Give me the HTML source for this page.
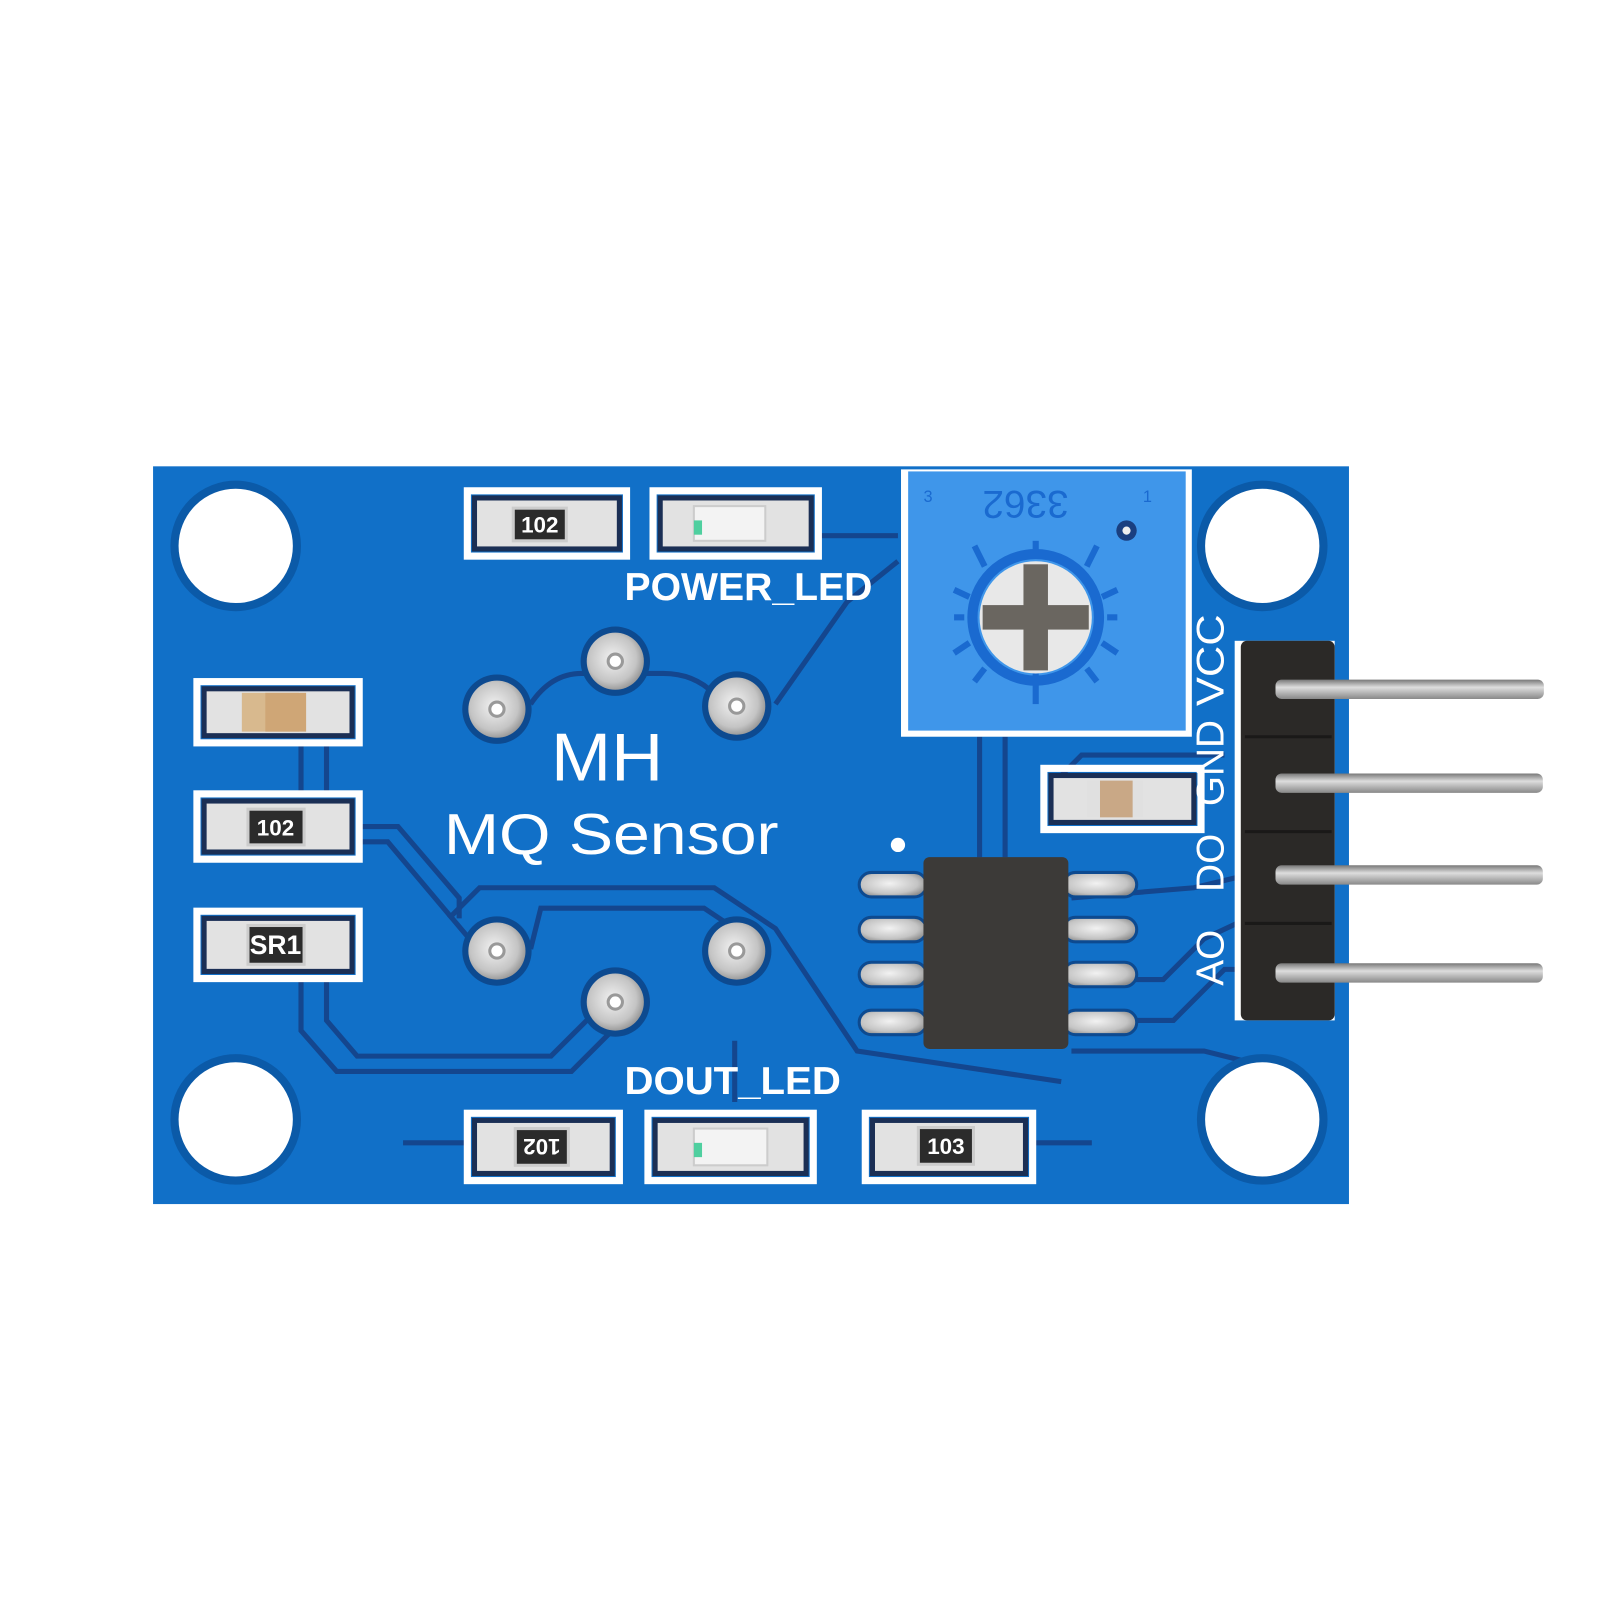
<!DOCTYPE html>
<html><head><style>html,body{margin:0;padding:0;background:#fff}svg{display:block}</style></head>
<body>
<svg width="1600" height="1600" viewBox="0 0 1600 1600" xmlns="http://www.w3.org/2000/svg" font-family="Liberation Sans, sans-serif">
<defs>
<radialGradient id="pad" cx="0.45" cy="0.45" r="0.6"><stop offset="0" stop-color="#f2f2f2"/><stop offset="0.7" stop-color="#c4c4c4"/><stop offset="1" stop-color="#8e8e8e"/></radialGradient>
<linearGradient id="pin" x1="0" y1="0" x2="0" y2="1"><stop offset="0" stop-color="#777"/><stop offset="0.4" stop-color="#ddd"/><stop offset="1" stop-color="#888"/></linearGradient>
</defs>
<rect width="1600" height="1600" fill="#fff"/>
<g transform="scale(1.0204)">
<rect x="150" y="457" width="1172" height="723" fill="#1170c8"/>
<g fill="none" stroke="#14468e" stroke-width="5">
<path d="M520 690 Q540 660 570 660 L650 660 Q680 660 700 680"/>
<path d="M760 690 L830 590 L880 550"/>
<path d="M805 525 L880 525"/>
<path d="M355 810 L390 810 L450 880 L450 900"/>
<path d="M355 825 L380 825 L460 920"/>
<path d="M295 730 L295 775 M320 730 L320 775"/>
<path d="M295 962 L295 1010 L330 1050 L560 1050 L600 1010"/>
<path d="M320 962 L320 1000 L350 1035 L540 1035 L580 995"/>
<path d="M520 930 L530 890 L690 890 L720 910"/>
<path d="M440 900 L470 870 L700 870 L760 910 L840 1030 L1040 1060"/>
<path d="M960 722 L960 840 M985 722 L985 840"/>
<path d="M1050 1000 L1150 1000 L1200 950 L1212 950"/>
<path d="M1050 960 L1140 960 L1180 920 L1212 905"/>
<path d="M1050 880 L1170 870 L1212 860"/>
<path d="M1050 1030 L1180 1030 L1260 1050"/>
<path d="M395 1120 L455 1120 M1015 1120 L1070 1120"/>
<path d="M720 1020 L720 1080"/>
<path d="M1040 760 L1060 740 L1200 740"/>
</g>
<g fill="#fff" stroke="#0b5aa8" stroke-width="8">
<circle cx="231" cy="535" r="60"/><circle cx="1237" cy="535" r="60"/>
<circle cx="231" cy="1097" r="60"/><circle cx="1237" cy="1097" r="60"/>
</g>
<g>
<circle cx="487" cy="695" r="34" fill="#0d4a90"/><circle cx="487" cy="695" r="28" fill="url(#pad)"/>
<circle cx="603" cy="648" r="34" fill="#0d4a90"/><circle cx="603" cy="648" r="28" fill="url(#pad)"/>
<circle cx="722" cy="692" r="34" fill="#0d4a90"/><circle cx="722" cy="692" r="28" fill="url(#pad)"/>
<circle cx="487" cy="932" r="34" fill="#0d4a90"/><circle cx="487" cy="932" r="28" fill="url(#pad)"/>
<circle cx="603" cy="982" r="34" fill="#0d4a90"/><circle cx="603" cy="982" r="28" fill="url(#pad)"/>
<circle cx="722" cy="932" r="34" fill="#0d4a90"/><circle cx="722" cy="932" r="28" fill="url(#pad)"/>
</g>
<g fill="#fff" stroke="#999" stroke-width="3">
<circle cx="487" cy="695" r="7"/><circle cx="603" cy="648" r="7"/><circle cx="722" cy="692" r="7"/>
<circle cx="487" cy="932" r="7"/><circle cx="603" cy="982" r="7"/><circle cx="722" cy="932" r="7"/>
</g>
<g>
<g fill="none" stroke="#fff" stroke-width="7">
<rect x="458" y="481" width="156" height="64"/>
<rect x="640" y="481" width="162" height="64"/>
<rect x="193" y="668" width="159" height="60"/>
<rect x="193" y="778" width="159" height="64"/>
<rect x="193" y="893" width="159" height="66"/>
<rect x="1023" y="753" width="154" height="60"/>
<rect x="458" y="1091" width="149" height="66"/>
<rect x="635" y="1091" width="162" height="66"/>
<rect x="848" y="1091" width="164" height="66"/>
</g>
<g fill="#e2e2e2" stroke="#1b2f55" stroke-width="5">
<rect x="465" y="488" width="142" height="50"/>
<rect x="647" y="488" width="148" height="50"/>
<rect x="200" y="675" width="145" height="46"/>
<rect x="200" y="785" width="145" height="50"/>
<rect x="200" y="900" width="145" height="52"/>
<rect x="1030" y="760" width="140" height="46"/>
<rect x="465" y="1098" width="135" height="52"/>
<rect x="642" y="1098" width="148" height="52"/>
<rect x="855" y="1098" width="150" height="52"/>
</g>
<g fill="#2b2b2b" stroke="#ccc" stroke-width="3">
<rect x="503" y="498" width="52" height="32"/>
<rect x="243" y="793" width="55" height="35"/>
<rect x="243" y="907" width="55" height="38"/>
<rect x="505" y="1106" width="52" height="36"/>
<rect x="900" y="1105" width="54" height="36"/>
</g>
<g fill="#fff" font-size="22" font-weight="bold" text-anchor="middle">
<text x="529" y="522">102</text>
<text x="270" y="819">102</text>
<text x="270" y="935" font-size="26">SR1</text>
<text x="531" y="1132" transform="rotate(180 531 1124)">102</text>
<text x="927" y="1131">103</text>
</g>
<rect x="237" y="679" width="56" height="38" fill="#d8b98e"/>
<rect x="260" y="679" width="40" height="38" fill="#cfa676"/>
<rect x="1065" y="765" width="55" height="36" fill="#e0e0e0"/>
<rect x="1078" y="765" width="32" height="36" fill="#c9a886"/>
<rect x="680" y="496" width="70" height="34" fill="#f3f3f3" stroke="#ccc" stroke-width="2"/>
<rect x="680" y="510" width="8" height="14" fill="#4fcf9f"/>
<rect x="680" y="1106" width="72" height="36" fill="#f3f3f3" stroke="#ccc" stroke-width="2"/>
<rect x="680" y="1120" width="8" height="14" fill="#4fcf9f"/>
</g>
<g fill="#fff" font-weight="bold">
<text x="612" y="588" font-size="38" textLength="243" lengthAdjust="spacingAndGlyphs">POWER_LED</text>
<text x="612" y="1072" font-size="38" textLength="212" lengthAdjust="spacingAndGlyphs">DOUT_LED</text>
<text x="540" y="765" font-size="66" font-weight="normal" textLength="110" lengthAdjust="spacingAndGlyphs">MH</text>
<text x="435" y="837" font-size="56" font-weight="normal" textLength="328" lengthAdjust="spacingAndGlyphs">MQ Sensor</text>
<g font-size="38" font-weight="normal">
<text transform="translate(1199 692) rotate(-90)" textLength="90" lengthAdjust="spacingAndGlyphs">VCC</text>
<text transform="translate(1199 790) rotate(-90)">GND</text>
<text transform="translate(1199 874) rotate(-90)">DO</text>
<text transform="translate(1199 966) rotate(-90)">AO</text>
</g>
</g>
<circle cx="880" cy="828" r="7" fill="#fff"/>
<rect x="883" y="460" width="285" height="262" fill="#fff"/>
<rect x="890" y="462" width="272" height="254" fill="#3f96ea"/>
<text x="1005" y="495" fill="#1a6ad0" font-size="38" transform="rotate(180 1005 495)" text-anchor="middle" dy="14">3362</text>
<text x="1120" y="492" fill="#1a6ad0" font-size="16">1</text>
<text x="905" y="492" fill="#1a6ad0" font-size="16">3</text>
<circle cx="1104" cy="520" r="10" fill="#1a3f80"/><circle cx="1104" cy="520" r="4" fill="#eee"/>
<g stroke="#1a6ad0" stroke-width="6">
<line x1="1015" y1="540" x2="1015" y2="530"/>
<line x1="1015" y1="690" x2="1015" y2="660"/>
<line x1="945" y1="605" x2="935" y2="605"/>
<line x1="1085" y1="605" x2="1095" y2="605"/>
<line x1="965" y1="555" x2="955" y2="535"/>
<line x1="1065" y1="555" x2="1075" y2="535"/>
<line x1="950" y1="585" x2="935" y2="578"/>
<line x1="1080" y1="585" x2="1095" y2="578"/>
<line x1="950" y1="630" x2="935" y2="640"/>
<line x1="1080" y1="630" x2="1095" y2="640"/>
<line x1="965" y1="655" x2="955" y2="668"/>
<line x1="1065" y1="655" x2="1075" y2="668"/>
</g>
<circle cx="1015" cy="605" r="62" fill="none" stroke="#1a6ad0" stroke-width="10"/>
<circle cx="1015" cy="605" r="55" fill="#e8e8e8"/>
<rect x="1003" y="553" width="24" height="104" fill="#6a6660"/>
<rect x="963" y="593" width="104" height="24" fill="#6a6660"/>
<g fill="url(#pad)" stroke="#0d4a90" stroke-width="3">
<rect x="842" y="855" width="66" height="24" rx="12"/><rect x="842" y="899" width="66" height="24" rx="12"/>
<rect x="842" y="943" width="66" height="24" rx="12"/><rect x="842" y="990" width="66" height="24" rx="12"/>
<rect x="1042" y="855" width="72" height="24" rx="12"/><rect x="1042" y="899" width="72" height="24" rx="12"/>
<rect x="1042" y="943" width="72" height="24" rx="12"/><rect x="1042" y="990" width="72" height="24" rx="12"/>
</g>
<rect x="905" y="840" width="142" height="188" rx="6" fill="#3c3a38"/>
<rect x="1210" y="628" width="98" height="372" fill="#fff"/>
<rect x="1216" y="628" width="92" height="372" rx="6" fill="#2b2927"/>
<g stroke="#1a1918" stroke-width="3"><line x1="1220" y1="722" x2="1305" y2="722"/><line x1="1220" y1="815" x2="1305" y2="815"/><line x1="1220" y1="905" x2="1305" y2="905"/></g>
<g fill="url(#pin)">
<rect x="1250" y="666" width="263" height="19" rx="6"/>
<rect x="1250" y="758" width="262" height="19" rx="6"/>
<rect x="1250" y="848" width="262" height="19" rx="6"/>
<rect x="1250" y="944" width="262" height="19" rx="6"/>
</g>
</g>
</svg>
</body></html>
